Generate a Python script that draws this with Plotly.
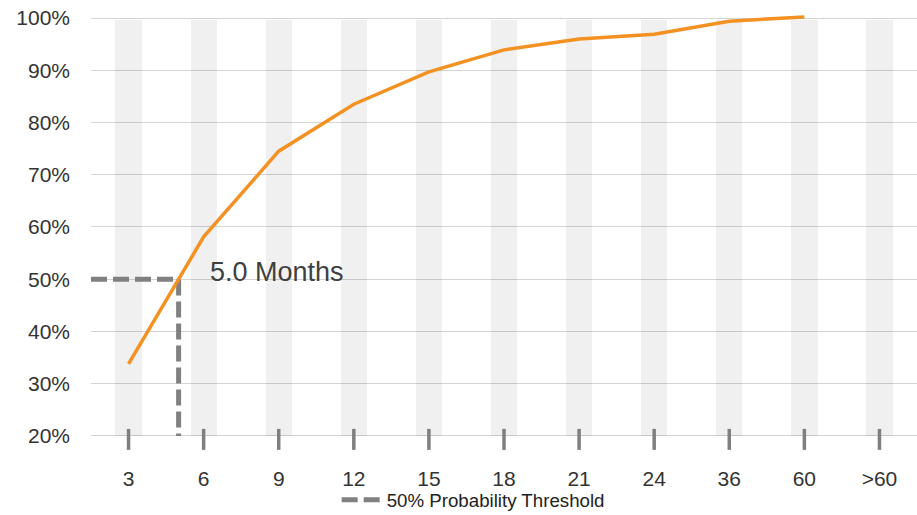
import plotly.graph_objects as go

# Months-to-close categories and cumulative probability (%)
categories = ["3", "6", "9", "12", "15", "18", "21", "24", "36", "60", ">60"]
cumulative_pct = [33.8, 58.1, 74.5, 83.5, 89.7, 93.9, 96.0, 96.9, 99.4, 100.2, None]

# 50% threshold crossing, expressed as a position between the "3" and "6" slots
threshold_pct = 50
threshold_pos = 2 / 3
threshold_label = "5.0 Months"

y_base = 20
y_ticks = [20, 30, 40, 50, 60, 70, 80, 90, 100]
# a little headroom above 100% and below the 20% baseline for the tick marks
y_range = [17.3, 100.77]

idx = list(range(len(categories)))
font = "Liberation Sans, Arial, Helvetica, sans-serif"

fig = go.Figure()

# light column bands behind each category
fig.add_trace(go.Bar(
    x=idx, y=[99.6 - y_base] * len(idx), base=y_base, width=0.35,
    marker=dict(color="rgba(0,0,0,0.06)", line=dict(width=0)),
    showlegend=False, hoverinfo="skip",
))

# dashed threshold guide: horizontal to the curve, then down to the baseline
fig.add_trace(go.Scatter(
    x=[-0.5, threshold_pos, threshold_pos],
    y=[threshold_pct, threshold_pct, y_base],
    mode="lines", name="50% Probability Threshold",
    line=dict(color="#808080", width=5, dash="16px,6px"),
))

# cumulative probability curve
fig.add_trace(go.Scatter(
    x=idx, y=cumulative_pct, mode="lines",
    line=dict(color="#F39123", width=3.5),
    showlegend=False,
))

# category tick marks straddling the baseline
fig.add_trace(go.Scatter(
    x=idx, y=[y_base - 0.67] * len(idx), mode="markers",
    marker=dict(symbol="line-ns", size=15, line=dict(color="#7f7f7f", width=3.5)),
    showlegend=False, hoverinfo="skip",
))

fig.add_annotation(
    x=threshold_pos, y=threshold_pct, xref="x", yref="y",
    text=threshold_label, showarrow=False, xanchor="left", yanchor="middle",
    xshift=29, yshift=7,
    font=dict(family=font, size=27, color="#404040"),
)

fig.update_layout(
    width=917, height=515,
    margin=dict(l=91, r=0, t=14, b=65, autoexpand=False),
    paper_bgcolor="white", plot_bgcolor="white",
    font=dict(family=font, color="#333333"),
    showlegend=True,
    legend=dict(
        orientation="h", xref="container", yref="container",
        x=0.516, xanchor="center", y=1 - 500 / 515, yanchor="middle",
        bgcolor="rgba(0,0,0,0)",
        font=dict(size=18.7, color="#222222"),
        itemwidth=40,
    ),
    xaxis=dict(
        range=[-0.5, len(idx) - 0.5],
        tickvals=idx, ticktext=categories,
        showgrid=False, zeroline=False, showline=False,
        ticks="", ticklabelstandoff=14,
        tickfont=dict(size=21, color="#333333"),
    ),
    yaxis=dict(
        range=y_range, tickvals=y_ticks,
        ticktext=[f"{v}%" for v in y_ticks],
        showgrid=True, gridcolor="#d4d4d4", gridwidth=1,
        zeroline=False, showline=False, ticks="",
        ticklabelstandoff=20,
        tickfont=dict(size=21, color="#333333"),
    ),
    bargap=0,
)

fig.write_html("out.html")
